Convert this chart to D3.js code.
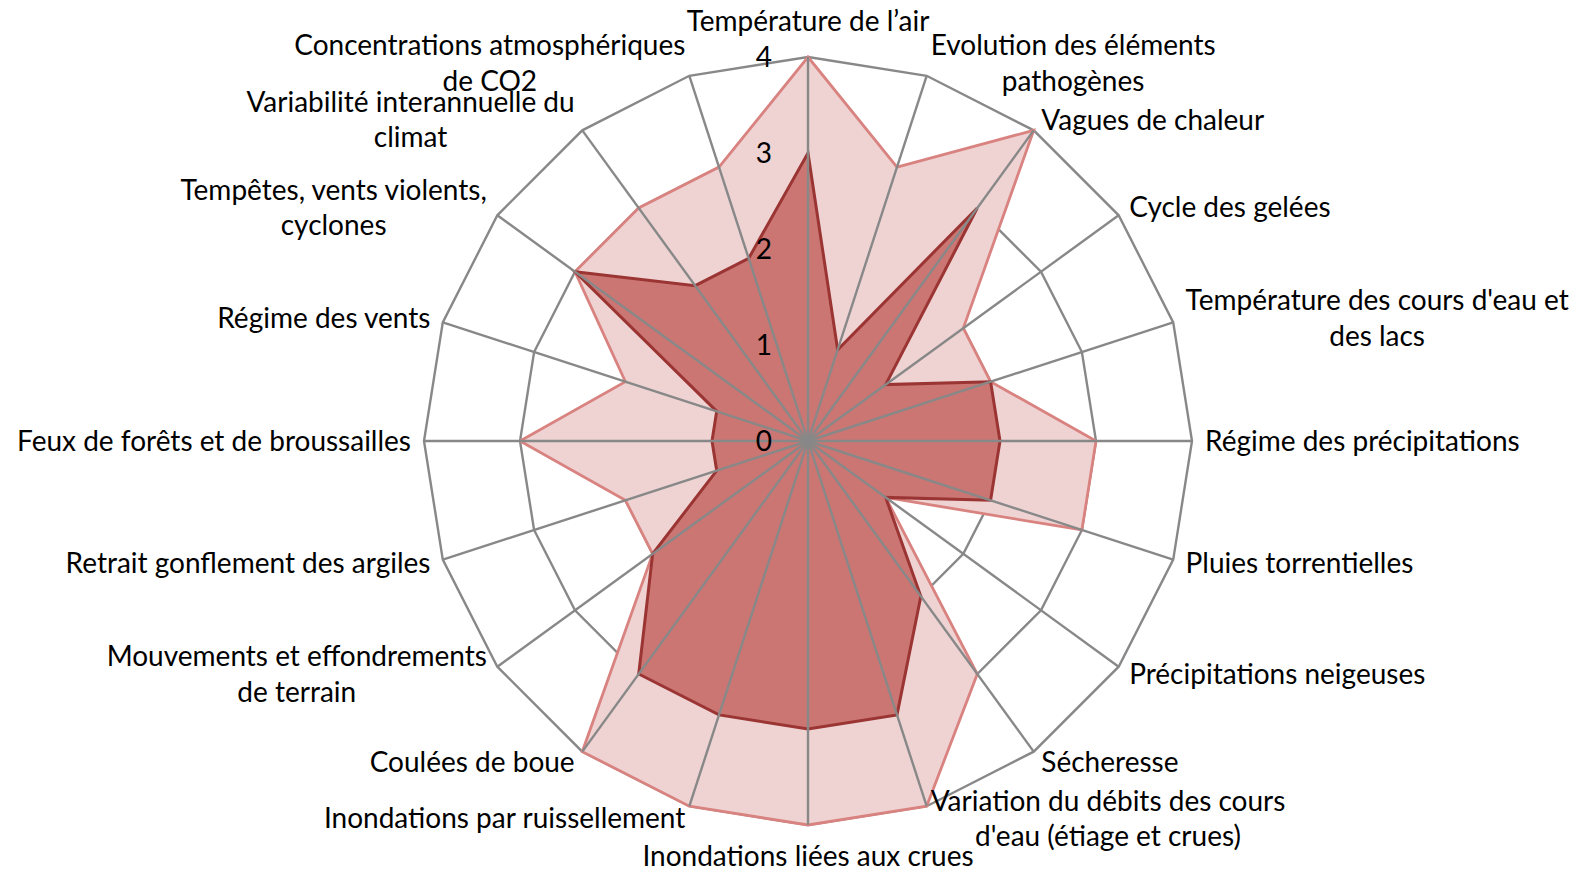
<!DOCTYPE html>
<html>
<head>
<meta charset="utf-8">
<script src="https://cdn.jsdelivr.net/npm/d3@7"></script>
<style>
  body { margin: 0; background: #fff; }
  text { font-family: Lato, "Open Sans", sans-serif; fill: #000; }
</style>
</head>
<body>
<div id="radar"></div>
<script>
// categories, clockwise from the top ("\n" = line break as in the original)
var categories = [
    "Température de l’air",
    "Evolution des éléments\npathogènes",
    "Vagues de chaleur",
    "Cycle des gelées",
    "Température des cours d'eau et\ndes lacs",
    "Régime des précipitations",
    "Pluies torrentielles",
    "Précipitations neigeuses",
    "Sécheresse",
    "Variation du débits des cours\nd'eau (étiage et crues)",
    "Inondations liées aux crues",
    "Inondations par ruissellement",
    "Coulées de boue",
    "Mouvements et effondrements\nde terrain",
    "Retrait gonflement des argiles",
    "Feux de forêts et de broussailles",
    "Régime des vents",
    "Tempêtes, vents violents,\ncyclones",
    "Variabilité interannuelle du\nclimat",
    "Concentrations atmosphériques\nde CO2"
];

// light series (outer, pink)
var seriesLight = [4, 3, 4, 2, 2, 3, 3, 1, 3, 4, 4, 4, 4, 2, 2, 3, 2, 3, 3, 3];
// dark series (inner, red)
var seriesDark = [3, 1, 3, 1, 2, 2, 2, 1, 2, 3, 3, 3, 3, 2, 1, 1, 1, 3, 2, 2];

var tickValues = [0, 1, 2, 3, 4];

var width = 1584, height = 875;
var cx = 808, cy = 441, radius = 384;
var gridColor = "#888888";

var svg = d3.select("#radar").append("svg")
    .attr("width", width)
    .attr("height", height);

var r = d3.scaleLinear().domain([0, 4]).range([0, radius]);
var angle = d3.scaleLinear().domain([0, categories.length]).range([0, 2 * Math.PI]);

var g = svg.append("g").attr("transform", "translate(" + cx + "," + cy + ")");

function pointAt(i, v) {
    var a = angle(i);
    return [r(v) * Math.sin(a), -r(v) * Math.cos(a)];
}

var radarLine = d3.lineRadial()
    .angle(function(d, i) { return angle(i); })
    .radius(function(d) { return r(d); })
    .curve(d3.curveLinearClosed);

// rings (drawn first, fills hide them)
g.selectAll(".ring")
    .data(tickValues.slice(1))
    .enter().append("path")
    .attr("class", "ring")
    .attr("d", function(t) { return radarLine(categories.map(function() { return t; })); })
    .attr("fill", "none")
    .attr("stroke", gridColor)
    .attr("stroke-width", 2.4);

// series
g.append("path")
    .attr("d", radarLine(seriesLight))
    .attr("fill", "#EFD3D3")
    .attr("stroke", "#D98381")
    .attr("stroke-width", 2.8)
    .attr("stroke-linejoin", "miter");

g.append("path")
    .attr("d", radarLine(seriesDark))
    .attr("fill", "#CB7673")
    .attr("stroke", "#9A3533")
    .attr("stroke-width", 3)
    .attr("stroke-linejoin", "miter");

// spokes on top
g.selectAll(".spoke")
    .data(categories)
    .enter().append("line")
    .attr("class", "spoke")
    .attr("x1", 0).attr("y1", 0)
    .attr("x2", function(d, i) { return pointAt(i, 4)[0]; })
    .attr("y2", function(d, i) { return pointAt(i, 4)[1]; })
    .attr("stroke", gridColor)
    .attr("stroke-width", 2.4);

// tick labels along the vertical axis
g.selectAll(".tick")
    .data(tickValues)
    .enter().append("text")
    .attr("class", "tick")
    .attr("x", -36)
    .attr("y", function(d) { return -r(d); })
    .attr("dy", "0.36em")
    .attr("text-anchor", "end")
    .style("font-size", "28px")
    .text(function(d) { return d; });

// category labels
var fontSize = 28, lineHeight = 35.5, gap = 13;

categories.forEach(function(label, i) {
    var a = angle(i);
    var s = Math.sin(a), c = Math.cos(a);
    var ax = (radius + gap) * s, ay = -(radius + gap) * c;
    var lines = label.split("\n");
    var blockH = lines.length * lineHeight;

    var top;
    if (Math.abs(s) < 0.05) {
        top = c > 0 ? ay - blockH - 5 : ay;
    } else {
        top = ay - blockH / 2;
    }

    var t = g.append("text")
        .style("font-size", fontSize + "px");
    lines.forEach(function(line, k) {
        t.append("tspan")
            .attr("y", top + lineHeight * (k + 0.5))
            .attr("dy", "0.35em")
            .text(line);
    });

    // block width = widest line, lines centred inside the block
    var widths = [];
    t.selectAll("tspan").each(function() { widths.push(this.getComputedTextLength()); });
    var blockW = d3.max(widths);
    var midX;
    if (s > 0.05) midX = ax + blockW / 2;
    else if (s < -0.05) midX = ax - blockW / 2;
    else midX = ax;
    t.attr("text-anchor", "middle");
    t.selectAll("tspan").attr("x", midX);
});
</script>
</body>
</html>
